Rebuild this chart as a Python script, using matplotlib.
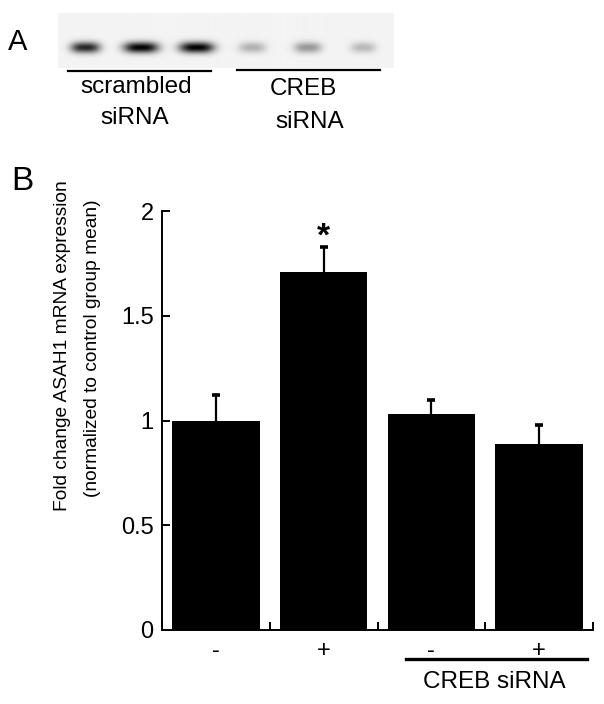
import numpy as np
import matplotlib
matplotlib.use("Agg")
import matplotlib.pyplot as plt
from matplotlib.lines import Line2D

plt.rcParams['font.family'] = ['Liberation Sans', 'DejaVu Sans']

# ---- data ----
tick_labels = ['-', '+', '-', '+']
means = [1.00, 1.71, 1.03, 0.89]
errors = [0.12, 0.12, 0.07, 0.09]
significant = [False, True, False, False]
y_ticks = [0, 0.5, 1, 1.5, 2]
y_tick_labels = ['0', '0.5', '1', '1.5', '2']

# blot (panel A)
blot_lane_intensity = [0.85, 1.0, 1.0, 0.27, 0.38, 0.24]
blot_lane_width = [32, 38, 38, 30, 30, 28]
blot_group_line1 = ['scrambled', 'CREB']
blot_group_line2 = ['siRNA', 'siRNA']

W, H = 604, 704
fig = plt.figure(figsize=(W / 100, H / 100), dpi=100)

def fx(px):
    return px / W

def fy(py):
    return 1 - py / H

# ---------- Panel A: blot ----------
bx0, bx1, by0, by1 = 58, 393, 13, 68
axb = fig.add_axes([fx(bx0), fy(by1), fx(bx1 - bx0), (by1 - by0) / H])
nx, ny = bx1 - bx0, by1 - by0
xx = np.arange(nx)[None, :]
yy = np.arange(ny)[:, None]
img = np.full((ny, nx), 0.955)
lane_centers = np.linspace(27, 304, len(blot_lane_intensity))
for c, inten, w in zip(lane_centers, blot_lane_intensity, blot_lane_width):
    prof_x = np.exp(-np.abs((xx - c) / (w / 2.2)) ** 3)
    prof_y = np.exp(-((yy - 34) / 5.5) ** 2)
    img -= 0.95 * inten * prof_x * prof_y
img = np.clip(img, 0, 1)
axb.imshow(img, cmap='gray', vmin=0, vmax=1, aspect='auto', interpolation='bilinear')
axb.axis('off')

fig.add_artist(Line2D([fx(68), fx(211)], [fy(71), fy(71)], color='black', lw=1.6))
fig.add_artist(Line2D([fx(237), fx(380)], [fy(70), fy(70)], color='black', lw=1.6))
fig.text(fx(136), fy(87), blot_group_line1[0], ha='center', va='center', fontsize=17.5)
fig.text(fx(135), fy(118), blot_group_line2[0], ha='center', va='center', fontsize=17.5)
fig.text(fx(303), fy(89), blot_group_line1[1], ha='center', va='center', fontsize=17.5)
fig.text(fx(310), fy(122), blot_group_line2[1], ha='center', va='center', fontsize=17.5)
fig.text(fx(18), fy(42), 'A', ha='center', va='center', fontsize=21)

# ---------- Panel B: bar chart ----------
left, right, top, bottom = 162, 593, 211, 630
ax = fig.add_axes([fx(left), fy(bottom), fx(right - left), (bottom - top) / H])
x = np.arange(len(means))
ax.bar(x, means, width=0.81, color='black', edgecolor='black', linewidth=0, zorder=2)
ax.errorbar(x, means, yerr=errors, fmt='none',
            ecolor='black', elinewidth=1.6, capsize=2.6, capthick=2.6, zorder=1)
for xi, m, e, s in zip(x, means, errors, significant):
    if s:
        ax.annotate('*', xy=(xi, m + e), xytext=(0, -4), textcoords='offset points',
                    ha='center', va='bottom', fontsize=24, fontweight='bold')

ax.set_xlim(-0.5, len(means) - 0.5)
ax.set_ylim(0, 2)
ax.set_yticks(y_ticks)
ax.set_yticklabels(y_tick_labels)
ax.set_xticks(x)
ax.set_xticklabels(tick_labels)
ax.set_xticks(np.arange(len(means) + 1) - 0.5, minor=True)
ax.tick_params(axis='x', which='major', length=0, pad=7, labelsize=17)
ax.tick_params(axis='x', which='minor', direction='in', length=6, width=1.4)
ax.tick_params(axis='y', direction='in', length=6, width=1.4, pad=6, labelsize=17)
for side in ['top', 'right']:
    ax.spines[side].set_visible(False)
for side in ['left', 'bottom']:
    ax.spines[side].set_linewidth(1.4)

fig.text(fx(63), fy(346), 'Fold change ASAH1 mRNA expression', rotation=90,
         ha='center', va='center', fontsize=13.8)
fig.text(fx(93), fy(348), '(normalized to control group mean)', rotation=90,
         ha='center', va='center', fontsize=13.8)
fig.text(fx(22), fy(181), 'B', ha='center', va='center', fontsize=24)

fig.add_artist(Line2D([fx(406), fx(587)], [fy(659), fy(659)], color='black', lw=2.4))
fig.text(fx(494), fy(682), 'CREB siRNA', ha='center', va='center', fontsize=17.5)

fig.savefig('out.png', dpi=100)
